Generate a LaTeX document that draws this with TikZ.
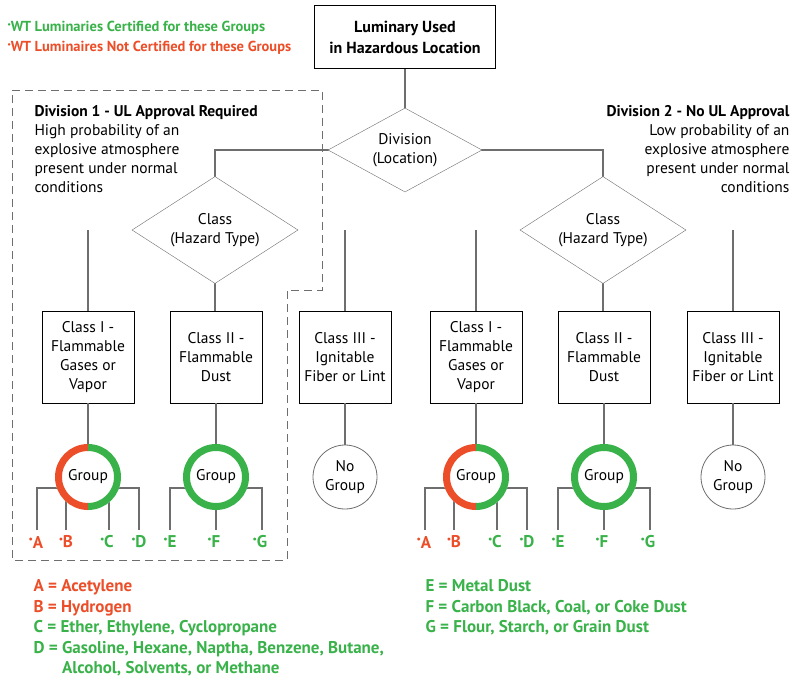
\documentclass[tikz,border=0pt]{standalone}
\usepackage{fontspec}
\setmainfont{PT Sans}
\usetikzlibrary{shapes.geometric}
\definecolor{cred}{RGB}{235,78,40}
\definecolor{cgreen}{RGB}{57,178,74}
\definecolor{cgray}{RGB}{110,110,110}
\newcommand{\dotm}{\raisebox{0.8ex}{\scalebox{0.45}{$\bullet$}}}
\begin{document}
\begin{tikzpicture}[x=1pt,y=-1pt,
 txt/.style={font=\fontsize{15.5}{19}\selectfont,align=center},
 box/.style={draw,thick,fill=white,minimum width=92pt,minimum height=92pt,txt},
 dia/.style={draw=cgray,fill=white,diamond,aspect=1.55,inner sep=1pt,txt},
 ln/.style={cgray,line width=1.3pt},
 lbl/.style={font=\fontsize{17}{18}\selectfont\bfseries},
 leg/.style={font=\fontsize{17}{20.5}\selectfont\bfseries,anchor=north west,align=left}]
\useasboundingbox (0,0) rectangle (800,681);
\node[anchor=north west,font=\fontsize{14.5}{15}\selectfont\bfseries,text=cgreen] (lg1) at (4,18) {\dotm WT Luminaries Certified for these Groups};
\node[anchor=north west,font=\fontsize{14.5}{15}\selectfont\bfseries,text=cred] (lg2) at (4,38) {\dotm WT Luminaires Not Certified for these Groups};
\draw[cgray,thick,dash pattern=on 8pt off 5pt] (12,90) -- (322,90) -- (322,290) -- (287,290) -- (287,560) -- (12,560) -- cycle;
\node[draw,line width=1.5pt,minimum width=181pt,minimum height=63pt,txt,font=\fontsize{16}{21}\selectfont\bfseries] (top) at (405,37) {Luminary Used\\in Hazardous Location};
\node[anchor=north west,txt,align=left] (d1) at (31,102) {\textbf{Division 1 - UL Approval Required}\\High probability of an\\explosive atmosphere\\present under normal\\conditions};
\node[anchor=north east,txt,align=right] (d2) at (793,102) {\textbf{Division 2 - No UL Approval}\\Low probability of an\\explosive atmosphere\\present under normal\\conditions};
\coordinate (divc) at (405,150);
\draw[ln] (405,69) -- (405,110);
\draw[ln] (215,180) |- (divc) -| (603,180);
\foreach \cx/\p in {215/L,603/R}{
 \draw[ln] (\cx-127,230) -- (\cx-127,311);
 \draw[ln] (\cx,230) -- (\cx,311);
 \draw[ln] (\cx+130,230) -- (\cx+130,311);
}
\node[dia,minimum width=154pt,minimum height=84pt] (div) at (divc) {Division\\(Location)};
\node[dia,minimum width=166pt,minimum height=107pt] (clL) at (215,230) {Class\\(Hazard Type)};
\node[dia,minimum width=166pt,minimum height=107pt] (clR) at (603,230) {Class\\(Hazard Type)};
\foreach \o/\s in {0/L,388/R}{
 \node[box] (c1\s) at (88+\o,357) {Class I -\\Flammable\\Gases or\\Vapor};
 \node[box] (c2\s) at (216+\o,357) {Class II -\\Flammable\\Dust};
 \node[box] (c3\s) at (345+\o,357) {Class III -\\Ignitable\\Fiber or Lint};
 \draw[ln] (c1\s.south) -- (88+\o,477);
 \draw[ln] (c2\s.south) -- (216+\o,477);
 \draw[ln] (c3\s.south) -- (345+\o,477);
 \draw[ln] (37+\o,530) |- (139+\o,488) -- (139+\o,530);
 \draw[ln] (66+\o,477) -- (66+\o,530);
 \draw[ln] (109+\o,477) -- (109+\o,530);
 \draw[ln] (170+\o,530) |- (262+\o,488) -- (262+\o,530);
 \draw[ln] (216+\o,477) -- (216+\o,530);
 \fill[white] (88+\o,477) circle (33);
 \draw[cred,line width=7pt] (88+\o,447.5) arc[start angle=-90,end angle=-270,radius=29.5];
 \draw[cgreen,line width=7pt] (88+\o,447.5) arc[start angle=-90,end angle=90,radius=29.5];
 \node[txt] (g1\s) at (88+\o,477) {Group};
 \fill[white] (216+\o,477) circle (33);
 \draw[cgreen,line width=7pt] (216+\o,477) circle (29.5);
 \node[txt] (g2\s) at (216+\o,477) {Group};
 \node[circle,draw=cgray,fill=white,thick,minimum size=64pt,txt,inner sep=0pt] (ng\s) at (345+\o,477) {No\\Group};
 \node[lbl,text=cred] (A\s) at (36+\o,542) {\dotm A};
 \node[lbl,text=cred] (B\s) at (66+\o,542) {\dotm B};
 \node[lbl,text=cgreen] (C\s) at (107+\o,542) {\dotm C};
 \node[lbl,text=cgreen] (D\s) at (139+\o,542) {\dotm D};
 \node[lbl,text=cgreen] (E\s) at (170+\o,542) {\dotm E};
 \node[lbl,text=cgreen] (F\s) at (214+\o,542) {\dotm F};
 \node[lbl,text=cgreen] (G\s) at (260+\o,542) {\dotm G};
}
\node[leg] (legL) at (30,576) {\textcolor{cred}{A = Acetylene}\\\textcolor{cred}{B = Hydrogen}\\\textcolor{cgreen}{C = Ether, Ethylene, Cyclopropane}\\\textcolor{cgreen}{D = Gasoline, Hexane, Naptha, Benzene, Butane,}\\\textcolor{cgreen}{\hphantom{D = }Alcohol, Solvents, or Methane}};
\node[leg,text=cgreen] (legR) at (422,576) {E = Metal Dust\\F = Carbon Black, Coal, or Coke Dust\\G = Flour, Starch, or Grain Dust};
\end{tikzpicture}
\end{document}
